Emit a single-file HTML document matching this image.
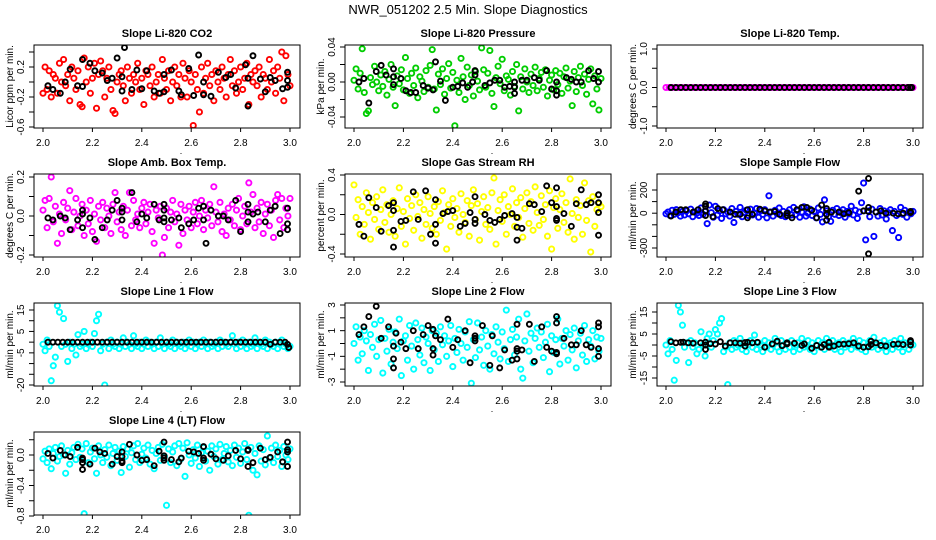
<!DOCTYPE html>
<html><head><meta charset="utf-8"><title>NWR_051202 2.5 Min. Slope Diagnostics</title>
<style>
html,body{margin:0;padding:0;background:#fff;}
svg{display:block;font-family:"Liberation Sans",Arial,sans-serif;}
</style></head>
<body>
<svg id="chart" width="936" height="540" viewBox="0 0 936 540">
<rect x="0" y="0" width="936" height="540" fill="#fff"/>
<text x="468" y="14" text-anchor="middle" font-size="13">NWR_051202  2.5 Min. Slope Diagnostics</text>
</svg>
<script>
const xTicks = [2.0, 2.2, 2.4, 2.6, 2.8, 3.0];
const xTickLabels = ["2.0", "2.2", "2.4", "2.6", "2.8", "3.0"];

const co2Vals = [-0.15,0.2,-0.1,0.15,-0.2,0.1,0.05,-0.15,0.25,0.0,
0.3,-0.05,0.1,-0.25,0.2,0.05,-0.1,0.15,-0.3,-0.33,
0.32,0.0,0.2,-0.15,0.05,0.25,-0.35,0.1,0.28,0.15,
-0.2,0.05,0.2,-0.1,-0.38,-0.42,0.0,0.1,0.15,-0.05,
-0.25,0.2,0.05,-0.15,0.1,0.0,0.25,-0.1,0.05,-0.3,
0.15,0.1,-0.05,0.2,-0.2,0.0,0.1,-0.15,0.3,0.05,
-0.1,0.15,-0.25,0.0,0.2,-0.05,0.1,-0.2,0.25,0.05,
-0.2,0.15,0.0,-0.58,0.1,-0.1,-0.4,0.2,-0.15,0.05,
0.25,-0.05,0.1,-0.25,0.15,0.0,-0.1,0.2,0.05,-0.2,
0.1,0.3,-0.05,0.15,-0.15,0.0,0.2,-0.1,0.05,0.25,
-0.3,0.1,0.0,0.15,-0.05,0.2,-0.2,0.1,0.05,-0.1,
0.3,0.0,0.15,-0.15,0.2,0.05,0.4,-0.25,0.35,0.1,-0.05];
const co2BlackT = [2.02,2.04,2.07,2.09,2.11,2.14,2.16,2.16,2.19,2.21,2.24,2.26,2.28,2.30,2.32,2.32,2.33,2.36,2.38,2.40,2.42,2.45,2.47,2.49,2.49,2.52,2.55,2.56,2.59,2.61,2.63,2.65,2.65,2.68,2.71,2.74,2.76,2.78,2.82,2.83,2.83,2.85,2.88,2.90,2.92,2.94,2.97,2.99,2.99,2.99];
const co2BlackV = [-0.05,-0.1,-0.15,0.0,0.17,-0.05,0.3,-0.06,0.25,0.15,0.12,0.02,0.05,0.32,0.07,-0.12,0.46,-0.1,0.16,-0.09,0.15,-0.12,-0.15,-0.13,0.1,0.16,-0.12,-0.17,0.18,-0.18,0.36,0.0,-0.17,-0.19,0.13,0.06,0.1,-0.08,0.23,0.05,-0.32,0.35,0.04,-0.13,0.06,0.02,-0.09,0.13,0.02,-0.07];

const presVals = [0.002,0.015,-0.008,0.010,0.038,-0.012,-0.036,-0.033,0.005,-0.003,
0.018,0.000,-0.010,0.008,-0.005,0.012,-0.015,0.003,0.020,-0.006,
-0.027,0.007,-0.002,0.014,-0.009,0.028,0.004,-0.013,0.010,-0.004,
0.016,-0.018,0.006,0.001,-0.011,0.013,-0.006,0.019,0.037,-0.008,
-0.032,0.009,-0.003,0.015,-0.014,0.004,0.021,-0.007,0.011,-0.050,
0.002,-0.012,0.027,0.006,-0.020,0.017,-0.004,0.008,-0.016,0.012,
0.001,-0.009,0.039,0.014,-0.006,0.010,0.036,-0.013,-0.028,0.005,
0.018,-0.002,0.026,-0.010,0.007,0.003,-0.015,0.012,-0.005,0.020,
-0.033,0.006,-0.008,0.015,0.000,-0.012,0.009,-0.004,0.017,-0.010,
0.004,0.011,-0.006,0.014,-0.016,0.002,0.008,-0.009,0.013,-0.003,
0.010,-0.013,0.006,0.016,-0.007,0.001,-0.027,0.012,-0.011,0.005,
0.018,-0.004,0.009,-0.014,0.003,0.015,-0.025,0.007,-0.008,-0.032,0.004];
const presBlackT = [2.02,2.04,2.06,2.09,2.11,2.13,2.16,2.16,2.16,2.19,2.21,2.23,2.25,2.28,2.30,2.32,2.33,2.35,2.37,2.40,2.42,2.44,2.46,2.48,2.49,2.49,2.53,2.55,2.57,2.59,2.61,2.63,2.65,2.65,2.65,2.68,2.70,2.73,2.75,2.78,2.80,2.82,2.82,2.82,2.86,2.88,2.90,2.92,2.95,2.97,2.99,2.99];
const presBlackV = [0.000,0.004,-0.024,0.012,0.019,0.008,0.015,0.006,-0.003,0.004,-0.010,-0.012,-0.012,-0.004,-0.007,-0.009,0.023,0.001,-0.021,-0.006,-0.005,-0.001,-0.006,0.000,0.013,0.008,-0.004,-0.001,0.002,0.002,-0.006,-0.005,0.000,-0.013,-0.006,0.002,0.002,0.005,0.002,0.013,-0.008,0.000,-0.015,-0.010,0.005,0.003,0.000,0.000,0.013,0.004,0.012,0.000];

const tempVals = [0,0,0,0,0,0,0,0,0,0,0,0,0,0,0,0,0,0,0,0,0,0,0,0,0,0,0,0,0,0,0,0,0,0,0,0,0,0,0,0,0,0,0,0,0,0,0,0,0,0,0,0,0,0,0,0,0,0,0,0,0,0,0,0,0,0,0,0,0,0,0,0,0,0,0,0,0,0,0,0,0];
const regBlackT = [2.02,2.04,2.06,2.08,2.10,2.12,2.14,2.16,2.18,2.20,2.22,2.24,2.26,2.28,2.30,2.32,2.34,2.36,2.38,2.40,2.42,2.44,2.46,2.48,2.50,2.52,2.54,2.56,2.58,2.60,2.62,2.64,2.66,2.68,2.70,2.72,2.74,2.76,2.78,2.80,2.82,2.84,2.86,2.88,2.90,2.92,2.94,2.96,2.98,2.99,2.995];
const tempBlackV = [0,0,0,0,0,0,0,0,0,0,0,0,0,0,0,0,0,0,0,0,0,0,0,0,0,0,0,0,0,0,0,0,0,0,0,0,0,0,0,0,0,0,0,0,0,0,0,0,0,0,0];

const ambVals = [0.03,0.08,-0.06,0.09,0.20,-0.03,0.05,-0.14,0.01,-0.09,
0.07,-0.02,0.04,0.13,-0.07,0.02,0.09,-0.05,0.00,0.06,
-0.10,0.03,-0.04,0.08,-0.08,0.01,-0.13,0.05,-0.02,0.07,
-0.06,0.04,0.00,-0.09,0.06,0.12,-0.03,0.02,-0.07,0.05,
-0.10,0.03,0.12,-0.05,0.08,-0.02,0.01,-0.06,0.04,0.07,
-0.04,0.02,0.06,-0.08,-0.14,0.03,-0.01,0.05,-0.20,-0.11,
0.04,-0.06,0.02,0.08,-0.03,0.01,-0.15,0.06,-0.09,0.03,
-0.02,0.05,-0.06,0.02,0.07,-0.04,0.00,0.08,-0.07,0.03,
-0.01,0.06,-0.05,0.15,0.02,-0.03,0.07,-0.08,0.01,-0.10,
0.04,-0.02,0.06,-0.05,0.03,0.09,-0.07,0.00,0.05,-0.04,
0.17,0.02,0.11,-0.06,0.04,-0.03,0.07,-0.09,0.01,0.06,
-0.05,0.03,-0.11,0.08,0.11,-0.02,0.09,-0.06,0.04,0.00,0.09];
const ambBlackT = [2.02,2.04,2.07,2.09,2.11,2.14,2.16,2.16,2.16,2.19,2.21,2.24,2.26,2.28,2.30,2.32,2.32,2.32,2.36,2.38,2.40,2.42,2.45,2.47,2.49,2.49,2.49,2.49,2.52,2.55,2.56,2.59,2.61,2.63,2.65,2.65,2.66,2.68,2.71,2.73,2.75,2.78,2.80,2.83,2.83,2.83,2.85,2.87,2.90,2.92,2.94,2.96,2.99,2.99,2.99];
const ambBlackV = [-0.01,-0.02,0.00,-0.01,-0.07,-0.02,0.03,0.01,-0.06,-0.01,-0.12,-0.06,-0.02,0.03,0.08,0.04,0.02,-0.02,0.12,-0.03,0.01,-0.01,0.06,-0.02,-0.01,-0.03,0.03,0.06,-0.02,-0.01,-0.06,-0.04,-0.02,0.04,0.05,-0.02,-0.14,0.03,0.00,0.00,-0.02,0.08,-0.08,0.06,0.02,-0.03,0.01,0.02,-0.03,0.03,0.05,-0.09,0.04,-0.04,-0.07];

const rhVals = [0.30,-0.03,0.15,-0.20,0.08,-0.10,0.22,0.02,-0.25,0.12,
-0.05,0.18,-0.15,0.05,0.25,-0.08,0.10,-0.18,0.00,0.14,
-0.22,0.06,0.27,-0.12,0.03,-0.30,0.16,-0.04,0.09,-0.16,
0.20,-0.02,0.12,-0.24,0.05,-0.10,0.18,0.01,-0.14,0.08,
-0.20,0.13,-0.06,0.24,0.02,-0.35,0.10,-0.12,0.16,-0.03,
0.06,-0.18,0.21,0.00,-0.08,0.14,-0.22,0.09,0.25,-0.05,
0.11,-0.26,0.03,0.18,-0.10,0.07,-0.15,0.22,0.37,-0.30,
0.04,0.15,-0.07,0.20,-0.20,0.08,0.00,0.26,-0.12,0.12,
-0.03,0.17,-0.23,0.06,0.22,-0.09,0.13,-0.16,0.28,0.02,
-0.11,0.19,-0.05,0.10,-0.22,0.24,-0.35,0.07,0.16,-0.14,
0.05,0.21,-0.08,0.12,-0.18,0.36,0.01,-0.25,0.15,-0.03,
0.09,-0.20,0.32,-0.06,0.14,-0.38,0.18,-0.12,0.05,0.11,0.08];
const rhBlackT = [2.02,2.04,2.06,2.09,2.11,2.14,2.16,2.16,2.16,2.16,2.19,2.21,2.24,2.26,2.29,2.31,2.33,2.33,2.33,2.36,2.38,2.40,2.43,2.45,2.47,2.49,2.49,2.49,2.53,2.55,2.57,2.59,2.61,2.64,2.66,2.66,2.66,2.68,2.71,2.73,2.76,2.78,2.80,2.82,2.82,2.82,2.82,2.85,2.88,2.90,2.92,2.94,2.96,2.99,2.99,2.99,2.99];
const rhBlackV = [-0.10,-0.22,0.17,0.07,-0.17,0.09,0.12,0.04,-0.16,-0.33,-0.07,-0.06,0.23,-0.05,0.24,-0.20,0.15,-0.10,-0.29,0.01,0.03,0.04,-0.12,-0.09,0.02,-0.05,0.18,-0.09,0.00,-0.06,-0.08,-0.05,-0.01,0.01,-0.03,-0.13,-0.26,-0.14,0.11,0.10,0.03,0.29,0.12,0.27,0.08,-0.04,-0.06,0.01,-0.12,0.11,0.25,0.10,0.12,0.20,0.12,0.02,-0.21];

const sampVals = [-5,10,-20,25,-10,30,5,-25,15,-15,
20,-5,35,-30,10,0,-20,45,-10,15,
-90,70,5,-35,60,-15,20,-45,30,-5,
10,-25,40,-80,15,-10,50,-30,5,25,
-20,35,-15,0,40,-35,20,-10,30,-40,
150,10,-25,25,-5,45,-20,15,-30,5,
30,-15,50,-10,20,-35,10,55,-25,0,
35,-20,15,-40,45,-10,-75,115,20,-30,
-70,25,-10,40,-20,5,30,-35,15,-5,
60,-15,25,-45,10,90,260,-230,20,-30,
35,-200,10,-25,40,-15,20,-50,5,30,
-150,15,-20,-210,50,-10,25,-35,10,-5,15];
const sampBlackT = [2.02,2.04,2.06,2.08,2.11,2.13,2.16,2.16,2.16,2.16,2.19,2.21,2.23,2.26,2.28,2.30,2.33,2.33,2.35,2.38,2.40,2.42,2.44,2.46,2.49,2.49,2.51,2.53,2.55,2.57,2.59,2.61,2.63,2.65,2.65,2.65,2.67,2.70,2.72,2.74,2.78,2.80,2.82,2.82,2.82,2.82,2.85,2.87,2.89,2.92,2.94,2.96,2.99,2.99,2.99];
const sampBlackV = [-25,10,30,30,10,30,80,60,20,-20,-30,40,30,10,-10,-10,30,-40,-10,35,20,10,15,-10,0,-20,-40,30,50,50,25,-40,70,40,-10,-60,10,10,-5,5,190,20,300,50,15,-350,10,20,0,0,-5,0,15,10,5];

const line1Vals = [-1,-4,1,-2,-18,-11,-7,17,14,-2,
11,-1,-9,0,-3,-1,-6,3.5,-2,-1,
5,-3,-1,0,-2,4,10,13,-4,-1,
-20,0,-3,1,-1,-2,0,-3,-1,2,
-2,0,-1,-3,3,-1,-2,0,-3,-1,
1,-2,0,-1,-3,0,-2,2,-1,-3,
0,-1,-2,1,-3,0,-1,-2,0,-3,
-1,1,-2,0,-3,-1,0,-2,1,-1,
-3,0,-2,-1,0,-3,1,-2,0,-1,
-2,0,3,-1,-3,0,-2,1,-1,-3,
0,-2,-1,2,-3,0,-1,-2,1,-3,
0,-1,-2,0,-3,-1,1,-2,-1,-3,-2];
const line1BlackV = [0,0,0,0,0,0,0,0,0,0,0,0,0,0,0,0,0,0,0,0,0,0,0,0,0,0,0,0,0,0,0,0,0,0,0,0,0,0,0,0,0,0,0,0,0,-1,0,0,0,-1,-2.5];

const line2Vals = [0.0,1.3,-1.3,0.5,-0.8,1.0,0.2,-2.1,0.7,-0.3,
1.5,-1.0,0.3,1.8,-2.3,0.4,-0.6,1.1,-1.6,0.1,
0.9,-0.4,1.9,-2.5,0.2,0.6,-1.3,1.4,-0.2,-2.0,
1.6,0.3,-0.9,1.2,-1.5,0.5,0.0,-2.1,1.0,-0.5,
0.8,-1.4,1.3,-0.1,0.6,-1.0,0.2,1.4,-1.8,0.4,
-0.7,1.1,0.0,-1.3,0.9,-0.3,1.7,-3.1,0.3,-1.1,
1.6,-0.5,0.5,-1.7,1.0,-0.2,-2.0,0.7,-0.8,1.3,
0.1,-1.2,0.9,-0.4,2.6,-1.4,0.3,1.1,-0.9,0.5,
1.9,-2.0,-2.7,0.2,2.3,-0.6,0.8,-1.5,0.4,1.2,
-0.3,0.9,-1.1,0.1,1.5,-2.2,0.6,-0.7,0.3,1.9,
-1.6,0.4,-0.2,1.0,-1.3,0.7,-0.5,1.2,-1.9,0.2,
0.8,-0.9,1.4,-1.4,0.3,-0.2,1.0,-1.2,0.5,-0.6,0.4];
const line2BlackT = [2.02,2.04,2.06,2.09,2.11,2.14,2.16,2.16,2.16,2.17,2.19,2.21,2.24,2.26,2.28,2.30,2.32,2.32,2.32,2.33,2.35,2.38,2.40,2.42,2.45,2.47,2.49,2.49,2.49,2.52,2.55,2.56,2.59,2.61,2.64,2.66,2.66,2.66,2.66,2.68,2.71,2.73,2.76,2.78,2.80,2.82,2.82,2.82,2.82,2.85,2.88,2.90,2.92,2.94,2.96,2.99,2.99,2.99,2.99];
const line2BlackV = [0.7,1.3,2.1,2.9,0.4,1.3,-0.2,-1.2,-1.9,0.8,0.1,-0.4,1.0,-0.4,0.7,1.4,1.1,-0.4,-0.9,0.6,0.3,1.9,-0.3,0.3,1.0,-1.5,0.2,0.6,0.4,1.4,-1.7,0.6,-1.9,-0.5,-1.3,1.5,-0.4,-0.6,-1.2,-0.5,1.5,-1.4,1.3,-0.3,-0.6,2.1,1.6,-0.7,-0.8,0.4,-0.1,-0.1,1.0,-0.1,-0.3,1.6,1.3,-0.4,-1.0];

const line3Vals = [0,-4,2,-2,-16,-7,18,15,9,-1,
1,-8,2,-1,1,-4,-2,6,0,-5,
3,5,-1,2,7,5,10,12,-3,-1,
-18,1,-2,2,-1,0,3,-2,1,-3,
0,2,-1,4.5,-2,1,0,-3,2,-1,
1,-2,0,3,-1,-3,2,0,-2,1,
-1,2,-3,0,1,-2,3,-1,0,2,
-2,1,-3,0,2,-1,1,-2,3,0,
-1,2,-2,0,1,-3,2,-1,0,1,
-2,3,0,-1,2,-2,1,-3,0,2,
-1,3.5,0,-2,1,-1,2,-3,0,1,
-2,2,0,-1,3,-3,1,0,-2,1,0];
const line3BlackT = [2.02,2.04,2.06,2.07,2.09,2.11,2.14,2.16,2.16,2.16,2.18,2.20,2.22,2.24,2.26,2.28,2.30,2.32,2.32,2.33,2.35,2.37,2.40,2.43,2.45,2.47,2.49,2.49,2.52,2.55,2.56,2.59,2.61,2.63,2.64,2.66,2.66,2.66,2.68,2.70,2.72,2.74,2.76,2.78,2.80,2.82,2.83,2.83,2.85,2.87,2.89,2.92,2.94,2.96,2.99,2.99,2.99];
const line3BlackV = [1.5,1,1.2,1.3,1,0.8,1,-2,0,1.3,0.6,0.4,1.5,-0.5,1,1,0.8,-0.5,1.1,1.2,1,1.2,-1,0.5,1.7,-0.3,0.5,1,0.8,-0.2,0.5,-1.5,-0.2,-1,0.2,1.2,-0.8,-1,-0.5,0.3,0.4,0.6,1,-0.5,-1,-0.8,0.2,1.7,1,-0.2,-0.5,0.3,0.5,0.2,2,1.5,0];

const line4Vals = [-0.05,0.05,-0.1,0.08,-0.18,0.02,0.1,-0.08,-0.02,0.12,
0.0,-0.24,0.06,-0.12,0.03,0.1,-0.06,0.14,-0.03,0.08,
-0.77,0.15,-0.1,0.04,0.09,-0.05,-0.24,0.12,0.0,-0.1,
0.07,-0.03,0.13,-0.14,0.02,0.1,-0.07,0.05,-0.23,0.11,
-0.02,0.08,-0.16,0.03,0.12,-0.06,0.15,-0.1,0.01,0.09,
-0.04,0.13,-0.12,0.06,-0.18,0.02,0.1,-0.07,0.14,-0.02,
-0.66,0.08,-0.1,0.04,0.12,-0.14,0.15,-0.05,0.09,-0.28,
0.16,0.0,-0.11,0.07,-0.04,0.13,-0.15,0.03,0.1,-0.08,
0.05,-0.2,0.12,-0.02,0.08,-0.12,0.14,-0.06,0.02,0.11,
-0.09,0.06,-0.14,0.13,-0.03,0.09,-0.11,0.04,0.15,-0.06,
-0.79,0.1,-0.2,0.02,-0.26,0.12,-0.08,0.07,-0.13,0.25,
-0.04,0.09,-0.1,0.13,-0.02,0.06,-0.15,0.11,0.0,-0.06,0.08];
const line4BlackT = [2.02,2.04,2.07,2.09,2.11,2.14,2.16,2.16,2.16,2.16,2.19,2.21,2.23,2.25,2.28,2.30,2.32,2.32,2.32,2.32,2.35,2.38,2.40,2.42,2.45,2.47,2.49,2.49,2.49,2.49,2.52,2.55,2.56,2.59,2.61,2.63,2.65,2.65,2.65,2.68,2.70,2.73,2.75,2.78,2.80,2.83,2.83,2.83,2.85,2.88,2.90,2.92,2.95,2.97,2.99,2.99,2.99,2.99];
const line4BlackV = [0.02,-0.04,0.06,0.0,-0.02,0.1,-0.04,-0.06,-0.1,-0.19,-0.12,0.09,0.04,0.02,-0.12,-0.02,0.04,-0.02,-0.08,-0.1,0.14,0.0,-0.07,-0.06,-0.14,0.05,0.17,-0.01,-0.04,-0.07,-0.06,-0.09,-0.04,0.05,0.04,0.02,0.11,-0.04,-0.07,0.01,-0.05,-0.07,-0.01,0.06,-0.05,0.07,0.06,-0.15,-0.1,0.09,-0.06,-0.03,0.04,-0.09,0.17,0.07,0.04,-0.15];

const NS = "http://www.w3.org/2000/svg";
const svg = document.getElementById("chart");
function mk(tag, attrs, parent) {
  const e = document.createElementNS(NS, tag);
  for (const k in attrs) e.setAttribute(k, attrs[k]);
  (parent || svg).appendChild(e);
  return e;
}
const W = 266, H = 83;
const panels = [
  {key:"co2", title:"Slope Li-820 CO2", ylab:"Licor ppm per min.", L:34, T:45, v1:0.4, o1:7, v2:-0.6, o2:82, ticks:[0.4,0.2,0,-0.2,-0.4,-0.6], labels:{"0.2":"0.2","-0.2":"-0.2","-0.6":"-0.6"}, color:"#ff0000", vals:co2Vals, bt:co2BlackT, bv:co2BlackV},
  {key:"pressure", title:"Slope Li-820 Pressure", ylab:"kPa per min.", L:345, T:45, v1:0.04, o1:2, v2:-0.04, o2:72, ticks:[0.04,0.02,0,-0.02,-0.04], labels:{"0.04":"0.04","0":"0.00","-0.04":"-0.04"}, color:"#00cd00", vals:presVals, bt:presBlackT, bv:presBlackV},
  {key:"temp", title:"Slope Li-820 Temp.", ylab:"degrees C per min.", L:657, T:45, v1:1, o1:4, v2:-1, o2:81, ticks:[1,0.5,0,-0.5,-1], labels:{"1":"1.0","0":"0.0","-1":"-1.0"}, color:"#ff00ff", vals:tempVals, bt:regBlackT, bv:tempBlackV},
  {key:"amb-box", title:"Slope Amb. Box Temp.", ylab:"degrees C per min.", L:34, T:174, v1:0.2, o1:3, v2:-0.2, o2:81, ticks:[0.2,0.1,0,-0.1,-0.2], labels:{"0.2":"0.2","0":"0.0","-0.2":"-0.2"}, color:"#ff00ff", vals:ambVals, bt:ambBlackT, bv:ambBlackV},
  {key:"rh", title:"Slope Gas Stream RH", ylab:"percent per min.", L:345, T:174, v1:0.4, o1:1, v2:-0.4, o2:80, ticks:[0.4,0.2,0,-0.2,-0.4], labels:{"0.4":"0.4","0":"0.0","-0.4":"-0.4"}, color:"#ffff00", vals:rhVals, bt:rhBlackT, bv:rhBlackV},
  {key:"sample-flow", title:"Slope Sample Flow", ylab:"ml/min per min.", L:657, T:174, v1:200, o1:16, v2:-300, o2:74, ticks:[200,100,0,-100,-200,-300], labels:{"200":"200","0":"0","-300":"-300"}, color:"#0000ff", vals:sampVals, bt:sampBlackT, bv:sampBlackV},
  {key:"line1", title:"Slope Line 1 Flow", ylab:"ml/min per min.", L:34, T:303, v1:15, o1:7, v2:-20, o2:82, ticks:[15,10,5,0,-5,-10,-15,-20], labels:{"15":"15","5":"5","-5":"-5","-20":"-20"}, color:"#00ffff", vals:line1Vals, bt:regBlackT, bv:line1BlackV},
  {key:"line2", title:"Slope Line 2 Flow", ylab:"ml/min per min.", L:345, T:303, v1:3, o1:2, v2:-3, o2:79, ticks:[3,2,1,0,-1,-2,-3], labels:{"3":"3","1":"1","-1":"-1","-3":"-3"}, color:"#00ffff", vals:line2Vals, bt:line2BlackT, bv:line2BlackV},
  {key:"line3", title:"Slope Line 3 Flow", ylab:"ml/min per min.", L:657, T:303, v1:15, o1:9, v2:-15, o2:75, ticks:[15,10,5,0,-5,-10,-15], labels:{"15":"15","5":"5","-5":"-5","-15":"-15"}, color:"#00ffff", vals:line3Vals, bt:line3BlackT, bv:line3BlackV},
  {key:"line4", title:"Slope Line 4 (LT) Flow", ylab:"ml/min per min.", L:34, T:432, v1:0, o1:23, v2:-0.8, o2:84, ticks:[0.2,0,-0.2,-0.4,-0.6,-0.8], labels:{"0":"0.0","-0.4":"-0.4","-0.8":"-0.8"}, color:"#00ffff", vals:line4Vals, bt:line4BlackT, bv:line4BlackV}
];

panels.forEach(p => {
  const g = mk("g", {});
  
  
  const xs = t => p.L + 9 + (t - 2) * 247;
  const ys = v => p.T + p.o1 + (p.v1 - v) * (p.o2 - p.o1) / (p.v1 - p.v2);
  const cx = p.L + W / 2;

  const title = mk("text", {x: cx, y: p.T - 8, "text-anchor": "middle", "font-size": 11, "font-weight": "bold"}, g);
  title.textContent = p.title;
  
  

  const clip = mk("clipPath", {id: "clip-" + p.key}, g);
  mk("rect", {x: p.L, y: p.T, width: W, height: H}, clip);

  const pts = mk("g", {"clip-path": "url(#clip-" + p.key + ")", fill: "none", "stroke-width": 1.9}, g);
  
  
  const n = p.vals.length;
  p.vals.forEach((v, i) => {
    const c = mk("circle", {cx: xs(2 + i / (n - 1)), cy: ys(v), r: 2.6, stroke: p.color}, pts);
    
    
  });
  const m = Math.min(p.bt.length, p.bv.length);
  for (let i = 0; i < m; i++) {
    const c = mk("circle", {cx: xs(p.bt[i]), cy: ys(p.bv[i]), r: 2.5, stroke: "#000"}, pts);
    
    
  }

  const box = mk("rect", {x: p.L, y: p.T, width: W, height: H, fill: "none", stroke: "#000", "stroke-width": 1}, g);
  
  

  const yax = mk("g", {stroke: "#000", "stroke-width": 1}, g);
  
  
  mk("line", {x1: p.L, x2: p.L, y1: ys(p.ticks[0]), y2: ys(p.ticks[p.ticks.length - 1])}, yax);
  p.ticks.forEach(t => {
    const y = ys(t);
    mk("line", {x1: p.L - 5, x2: p.L, y1: y, y2: y}, yax);
    const lab = p.labels[String(t)];
    if (lab !== undefined) {
      const tx = mk("text", {x: 0, y: 0, "text-anchor": "middle", "font-size": 10, stroke: "none", fill: "#000", transform: `translate(${p.L - 10},${y}) rotate(-90)`}, g);
      tx.textContent = lab;
      
      
    }
  });
  const yl = mk("text", {x: 0, y: 0, "text-anchor": "middle", "font-size": 10, transform: `translate(${p.L - 21},${p.T + H / 2}) rotate(-90)`}, g);
  yl.textContent = p.ylab;
  
  

  const xax = mk("g", {stroke: "#000", "stroke-width": 1}, g);
  
  
  const yb = p.T + H;
  mk("line", {x1: xs(xTicks[0]), x2: xs(xTicks[xTicks.length - 1]), y1: yb, y2: yb}, xax);
  xTicks.forEach((t, i) => {
    mk("line", {x1: xs(t), x2: xs(t), y1: yb, y2: yb + 4}, xax);
    const tx = mk("text", {x: xs(t), y: yb + 18, "text-anchor": "middle", "font-size": 10}, g);
    tx.textContent = xTickLabels[i];
    
    
  });
  const dot = mk("text", {x: cx + 14, y: yb + 26, "text-anchor": "middle", "font-size": 9}, g);
  dot.textContent = ".";
  
  
});
</script>
</body></html>
